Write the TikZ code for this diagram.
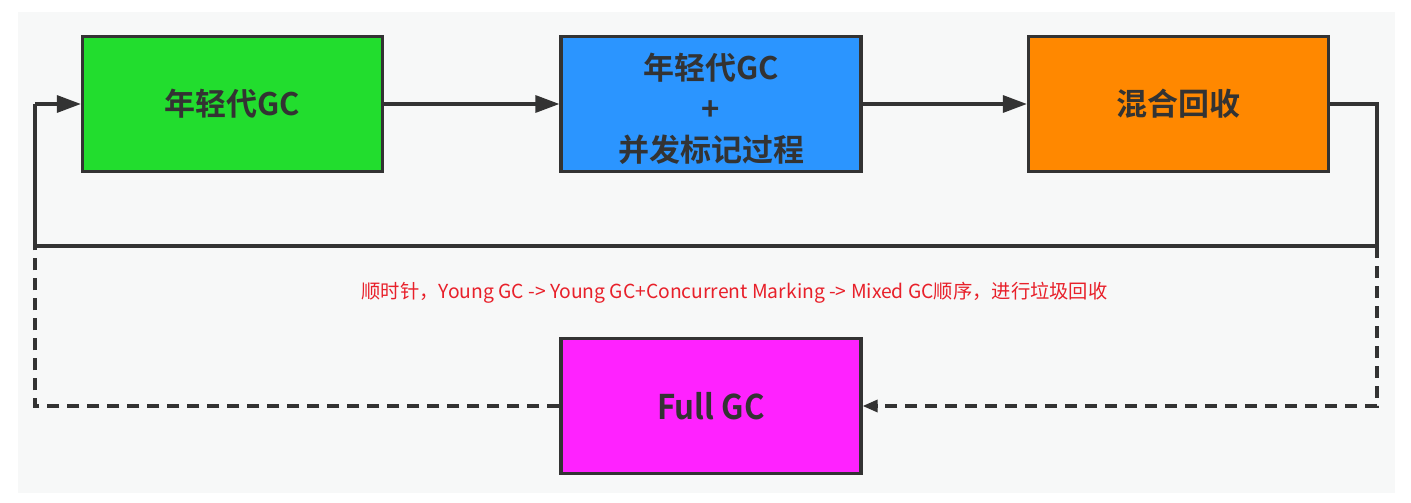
\documentclass[tikz,border=0pt]{standalone}
\usepackage{fontspec}
\setmainfont{Noto Sans CJK SC}
\newfontfamily\cjkbold{Noto Sans CJK SC Bold}
\usetikzlibrary{arrows.meta}
\definecolor{bgpanel}{HTML}{F7F8F8}
\definecolor{edgegray}{HTML}{333333}
\definecolor{gcgreen}{HTML}{22DD2E}
\definecolor{gcblue}{HTML}{2B95FF}
\definecolor{gcorange}{HTML}{FF8800}
\definecolor{gcmagenta}{HTML}{FF22FF}
\definecolor{notered}{HTML}{E8202A}
\tikzset{
  boxtext/.style={inner sep=0pt, text=edgegray, font=\cjkbold\fontsize{31}{41}\selectfont, align=center},
  gcbox/.style={boxtext, draw=edgegray, line width=3.2pt, minimum width=300pt, minimum height=135pt},
  flow/.style={draw=edgegray, line width=3.2pt, -{Triangle[length=24pt,width=17pt]}},
  flowplain/.style={draw=edgegray, line width=3.2pt},
  dashflow/.style={draw=edgegray, line width=3.2pt, dash pattern=on 12pt off 8pt},
}
\begin{document}
\begin{tikzpicture}[x=1pt,y=-1pt]
\useasboundingbox (0,0) rectangle (1411,503);
\fill[white] (0,0) rectangle (1411,503);
\fill[bgpanel] (18,12) rectangle (1395,493);
\node[gcbox, fill=gcgreen] (young) at (232.5,104) {年轻代GC};
\node[gcbox, fill=gcblue, label={[boxtext, yshift=-5pt]center:年轻代GC\\+\\并发标记过程}] (conc) at (711,104) {};
\node[gcbox, fill=gcorange] (mixed) at (1178.5,104) {混合回收};
\node[gcbox, fill=gcmagenta] (full) at (711,406) {\scalebox{0.92}[1]{\fontsize{34}{40}\selectfont Full GC}};
\coordinate (rtop) at (1377,104);
\coordinate (rmid) at (1377,246);
\coordinate (rbot) at (1377,406);
\coordinate (lmid) at (35,246);
\coordinate (ltop) at (35,104);
\coordinate (lbot) at (35,406);
\draw[flow] (young) -- (conc);
\draw[flow] (conc) -- (mixed);
\draw[flowplain] (mixed.east) -- (rtop) -- (rmid) -- (lmid) -- (ltop);
\draw[flow] (ltop) -- (young.west);
\draw[dashflow, -{Triangle[length=15pt,width=12pt]}] (rmid) -- (rbot) -- (full.east);
\draw[dashflow] (full.west) -- (lbot) -- (lmid);
\node[text=notered, font=\fontsize{19.3}{21}\selectfont, inner sep=0pt] (note) at (734.5,293)
  {顺时针，Young GC -> Young GC+Concurrent Marking -> Mixed GC顺序，进行垃圾回收};
\end{tikzpicture}
\end{document}
